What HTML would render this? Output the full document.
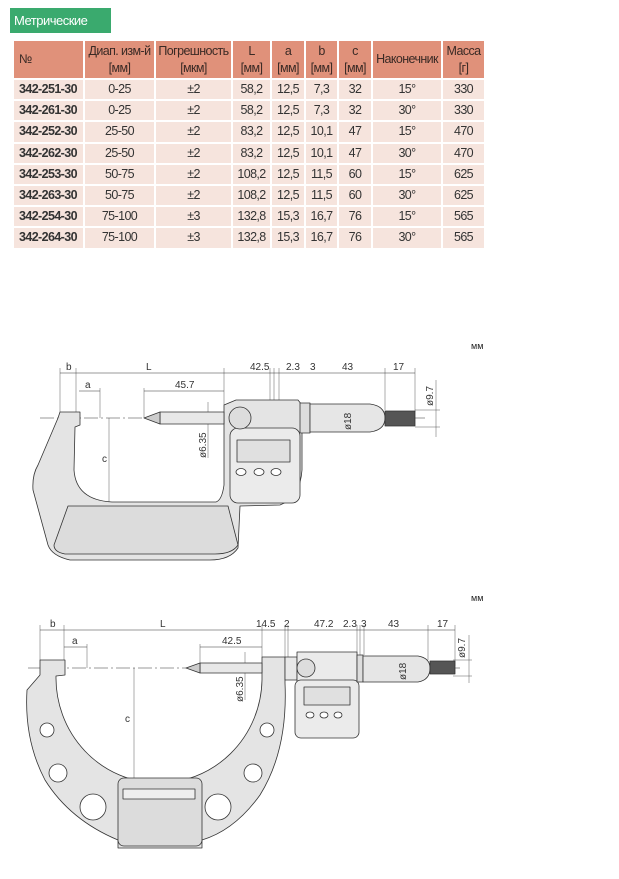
<!DOCTYPE html>
<html><head><meta charset="utf-8"><style>
body{margin:0;width:619px;height:879px;background:#fff;position:relative;font-family:"Liberation Sans","DejaVu Sans",sans-serif;overflow:hidden}
.tag{position:absolute;left:10px;top:8px;width:101px;height:25px;background:#3aaa6e;color:#fff;font-size:13px;line-height:25px;padding-left:4px;box-sizing:border-box;letter-spacing:-0.5px}
table{position:absolute;left:12px;top:39px;border-collapse:collapse;font-size:12.5px;color:#333;table-layout:fixed;width:472px;letter-spacing:-0.6px}
td{border:2px solid #fff;text-align:center;padding:0;background:#f6e4dd;height:19.2px;line-height:19px;white-space:nowrap;overflow:hidden}
tr.h td{background:#e0917a;height:37px;line-height:17px;color:#3a2a25}
td.n{text-align:left;padding-left:5px;font-weight:bold}
svg{position:absolute;left:0;top:0}
</style></head><body>
<div class="tag">Метрические</div>
<table>
<colgroup><col style="width:71px"><col style="width:71px"><col style="width:77px"><col style="width:39px"><col style="width:34px"><col style="width:33px"><col style="width:34px"><col style="width:70px"><col style="width:43px"></colgroup>
<tr class="h"><td class="n" style="font-weight:normal">№</td><td>Диап. изм-й<br>[мм]</td><td>Погрешность<br>[мкм]</td><td>L<br>[мм]</td><td>a<br>[мм]</td><td>b<br>[мм]</td><td>c<br>[мм]</td><td>Наконечник</td><td>Масса<br>[г]</td></tr>
<tr><td class="n">342-251-30</td><td>0-25</td><td>±2</td><td>58,2</td><td>12,5</td><td>7,3</td><td>32</td><td>15°</td><td>330</td></tr>
<tr><td class="n">342-261-30</td><td>0-25</td><td>±2</td><td>58,2</td><td>12,5</td><td>7,3</td><td>32</td><td>30°</td><td>330</td></tr>
<tr><td class="n">342-252-30</td><td>25-50</td><td>±2</td><td>83,2</td><td>12,5</td><td>10,1</td><td>47</td><td>15°</td><td>470</td></tr>
<tr><td class="n">342-262-30</td><td>25-50</td><td>±2</td><td>83,2</td><td>12,5</td><td>10,1</td><td>47</td><td>30°</td><td>470</td></tr>
<tr><td class="n">342-253-30</td><td>50-75</td><td>±2</td><td>108,2</td><td>12,5</td><td>11,5</td><td>60</td><td>15°</td><td>625</td></tr>
<tr><td class="n">342-263-30</td><td>50-75</td><td>±2</td><td>108,2</td><td>12,5</td><td>11,5</td><td>60</td><td>30°</td><td>625</td></tr>
<tr><td class="n">342-254-30</td><td>75-100</td><td>±3</td><td>132,8</td><td>15,3</td><td>16,7</td><td>76</td><td>15°</td><td>565</td></tr>
<tr><td class="n">342-264-30</td><td>75-100</td><td>±3</td><td>132,8</td><td>15,3</td><td>16,7</td><td>76</td><td>30°</td><td>565</td></tr>
</table>
<svg width="619" height="879" font-size="10" fill="#333" stroke-linejoin="round">
<g fill="#222" font-size="9"><text x="471" y="349">мм</text><text x="471" y="601">мм</text></g>
<!-- Drawing 1 -->
<g stroke="#333" stroke-width="0.6" fill="none">
<line x1="60" y1="373" x2="415" y2="373"/>
<line x1="79" y1="391" x2="100" y2="391"/><line x1="144" y1="391" x2="224" y2="391"/>
<g stroke-width="0.4"><line x1="60" y1="368" x2="60" y2="412"/><line x1="76" y1="368" x2="76" y2="412"/><line x1="100" y1="388" x2="100" y2="418"/><line x1="144" y1="388" x2="144" y2="418"/><line x1="224" y1="368" x2="224" y2="405"/><line x1="270" y1="368" x2="270" y2="402"/><line x1="274" y1="368" x2="274" y2="402"/><line x1="279" y1="368" x2="279" y2="402"/><line x1="385" y1="368" x2="385" y2="410"/><line x1="415" y1="368" x2="415" y2="412"/>
<line x1="415" y1="410" x2="440" y2="410"/><line x1="415" y1="427" x2="440" y2="427"/><line x1="436" y1="380" x2="436" y2="437"/>
<line x1="208" y1="402" x2="208" y2="458"/><line x1="109" y1="418" x2="109" y2="502"/></g>
<line x1="40" y1="418" x2="425" y2="418" stroke-dasharray="14 3 2 3"/>
</g>
<g stroke="#333" stroke-width="0.8">
<path d="M60 412 L80 412 L80 425 L75 427 L74 470 Q76 500 112 502 L216 502 Q222 500 224 485 L224 405 L236 400 L298 400 L302 405 L302 470 Q300 498 280 505 L240 506 L238 548 Q230 560 210 560 L70 560 Q52 556 48 545 L33 490 Q32 475 38 465 L58 418 Z" fill="#e4e4e4"/>
<path d="M68 506 L228 506 L238 545 Q232 554 215 554 L65 554 Q54 552 54 545 Z" fill="#dcdcdc"/>
<rect x="160" y="412" width="64" height="12" fill="#e8e8e8"/>
<path d="M160 412 L144 418 L160 424 Z" fill="#ccc"/>
<rect x="230" y="428" width="70" height="75" rx="8" fill="#ebebeb"/>
<rect x="237" y="440" width="53" height="22" fill="#e0e0e0"/>
<rect x="300" y="403" width="10" height="30" fill="#ddd"/>
<path d="M310 404 L370 404 Q385 406 385 418 Q385 430 370 432 L310 432 Z" fill="#e6e6e6"/>
<rect x="385" y="411" width="30" height="15" fill="#555"/>
<circle cx="240" cy="418" r="11" fill="#ddd"/>
<ellipse cx="241" cy="472" rx="5" ry="3.5" fill="#fff"/><ellipse cx="259" cy="472" rx="5" ry="3.5" fill="#fff"/><ellipse cx="276" cy="472" rx="5" ry="3.5" fill="#fff"/>
</g>
<g font-size="10"><text x="66" y="370">b</text><text x="146" y="370">L</text><text x="250" y="370">42.5</text><text x="286" y="370">2.3</text><text x="310" y="370">3</text><text x="342" y="370">43</text><text x="393" y="370">17</text><text x="85" y="388">a</text><text x="175" y="388">45.7</text><text x="102" y="462">c</text>
<text transform="translate(206 458) rotate(-90)">ø6.35</text><text transform="translate(351 430) rotate(-90)">ø18</text><text transform="translate(433 406) rotate(-90)">ø9.7</text></g>
<!-- Drawing 2 -->
<g stroke="#333" stroke-width="0.6" fill="none">
<line x1="40" y1="630" x2="455" y2="630"/>
<line x1="64" y1="647" x2="87" y2="647"/><line x1="200" y1="647" x2="262" y2="647"/>
<g stroke-width="0.4"><line x1="40" y1="625" x2="40" y2="660"/><line x1="64" y1="625" x2="64" y2="668"/><line x1="87" y1="644" x2="87" y2="668"/><line x1="200" y1="644" x2="200" y2="668"/><line x1="262" y1="625" x2="262" y2="657"/><line x1="285" y1="625" x2="285" y2="660"/><line x1="288" y1="625" x2="288" y2="660"/><line x1="357" y1="625" x2="357" y2="655"/><line x1="360" y1="625" x2="360" y2="655"/><line x1="364" y1="625" x2="364" y2="655"/><line x1="428" y1="625" x2="428" y2="660"/><line x1="455" y1="625" x2="455" y2="666"/>
<line x1="453" y1="660" x2="472" y2="660"/><line x1="453" y1="676" x2="472" y2="676"/><line x1="469" y1="635" x2="469" y2="683"/>
<line x1="245" y1="652" x2="245" y2="700"/><line x1="134" y1="668" x2="134" y2="780"/></g>
<line x1="28" y1="668" x2="460" y2="668" stroke-dasharray="14 3 2 3"/>
</g>
<g stroke="#333" stroke-width="0.8">
<path d="M40 660 L65 660 L65 675 L56 676 A102 104 0 0 0 262 680 L262 657 L285 657 L285 683 Q288 750 260 795 Q235 830 202 840 L202 848 L118 848 L118 840 Q70 820 45 780 Q24 740 27 690 L40 675 Z" fill="#e4e4e4"/>
<rect x="118" y="778" width="84" height="68" rx="6" fill="#dcdcdc"/>
<rect x="123" y="789" width="72" height="10" fill="#eee"/>
<circle cx="47" cy="730" r="7" fill="#fff"/><circle cx="58" cy="773" r="9" fill="#fff"/><circle cx="93" cy="807" r="13" fill="#fff"/><circle cx="218" cy="807" r="13" fill="#fff"/><circle cx="253" cy="773" r="9" fill="#fff"/><circle cx="267" cy="730" r="7" fill="#fff"/>
<rect x="200" y="663" width="62" height="10" fill="#e8e8e8"/>
<path d="M200 663 L186 668 L200 673 Z" fill="#ccc"/>
<rect x="285" y="657" width="12" height="23" fill="#e8e8e8"/>
<path d="M297 652 L357 652 L357 683 L297 683 Z" fill="#ebebeb"/>
<rect x="295" y="680" width="64" height="58" rx="6" fill="#ebebeb"/>
<rect x="304" y="687" width="46" height="18" fill="#e0e0e0"/>
<circle cx="306" cy="668" r="9" fill="#ddd"/>
<ellipse cx="310" cy="715" rx="4" ry="3" fill="#fff"/><ellipse cx="324" cy="715" rx="4" ry="3" fill="#fff"/><ellipse cx="338" cy="715" rx="4" ry="3" fill="#fff"/>
<rect x="357" y="655" width="6" height="27" fill="#ddd"/>
<path d="M363 656 L418 656 Q430 658 430 668 Q430 680 418 682 L363 682 Z" fill="#e6e6e6"/>
<rect x="430" y="661" width="25" height="13" fill="#555"/>
</g>
<g font-size="10"><text x="50" y="627">b</text><text x="160" y="627">L</text><text x="256" y="627">14.5</text><text x="284" y="627">2</text><text x="314" y="627">47.2</text><text x="343" y="627">2.3</text><text x="361" y="627">3</text><text x="388" y="627">43</text><text x="437" y="627">17</text><text x="72" y="644">a</text><text x="222" y="644">42.5</text><text x="125" y="722">c</text>
<text transform="translate(243 702) rotate(-90)">ø6.35</text><text transform="translate(406 680) rotate(-90)">ø18</text><text transform="translate(465 658) rotate(-90)">ø9.7</text></g>
</svg>
</body></html>
